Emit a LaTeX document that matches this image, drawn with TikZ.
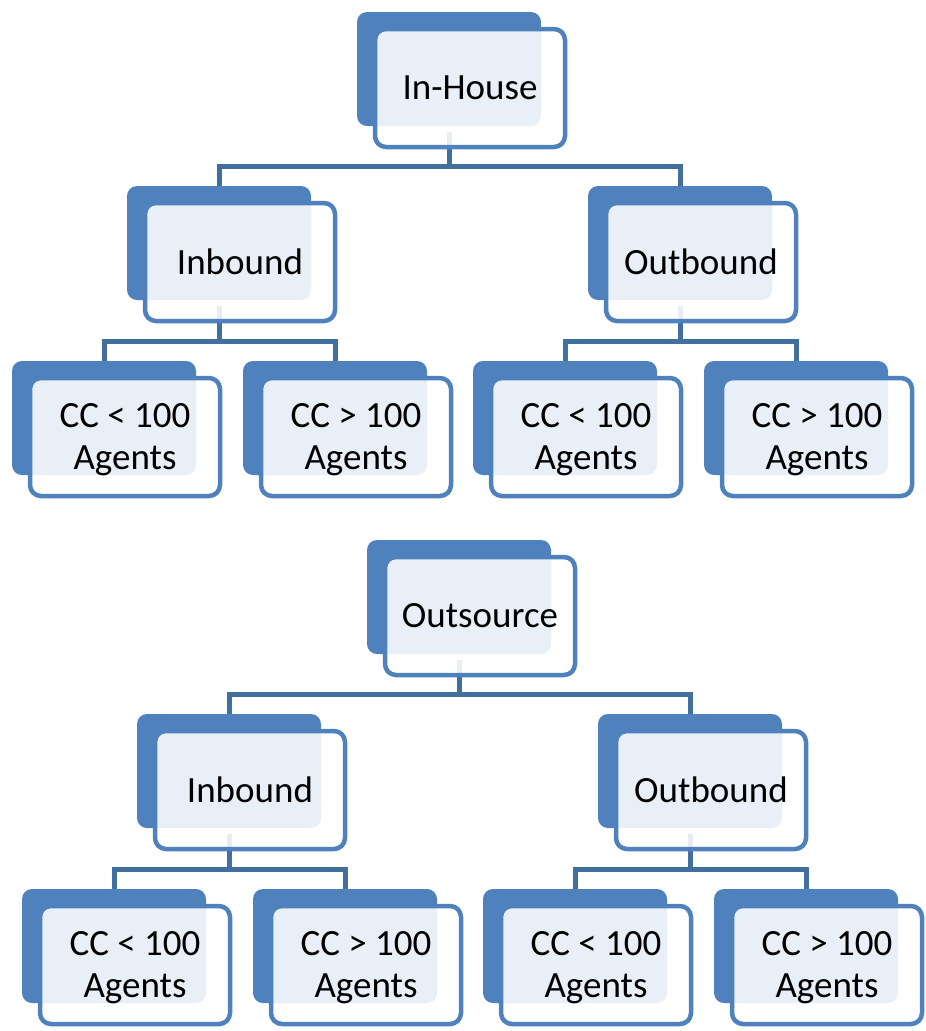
\documentclass[tikz,border=0pt]{standalone}
\usepackage{fontspec}
\setmainfont{Carlito}
\definecolor{dkblue}{HTML}{4F81BD}
\definecolor{connblue}{HTML}{41709F}
\newcommand{\lowr}[1]{\raisebox{-3pt}[\height][\depth]{#1}}
\tikzset{
  backbox/.style={draw=none, fill=dkblue, rounded corners=10pt, minimum width=184pt, minimum height=114pt, inner sep=0pt},
  frontbox/.style={draw=dkblue, line width=4.5pt, fill=white, fill opacity=0.88, text opacity=1, rounded corners=11pt, minimum width=190pt, minimum height=118pt, inner sep=0pt, align=center, font=\fontsize{37}{42}\selectfont},
  conn/.style={draw=connblue, line width=5pt}
}
\begin{document}
\begin{tikzpicture}[x=1pt,y=-1pt]
\useasboundingbox (0,0) rectangle (926,1031);
% ---------- back boxes ----------
\foreach \n/\x/\y in {ih/449/69, ib/219/243, ob/680/243, a1/104/418, a2/335/418, a3/565/418, a4/796/418,
                      os/459/597, jb/229/771, pb/690/771, b1/114/946, b2/345/946, b3/575/946, b4/806/946}
  \node[backbox] (\n) at (\x,\y) {};
% ---------- connectors ----------
\coordinate (j1) at (449,166);
\coordinate (j2) at (219,341);
\coordinate (j3) at (680,341);
\coordinate (k1) at (459,694);
\coordinate (k2) at (229,869);
\coordinate (k3) at (690,869);
\draw[conn] ([yshift=-6pt]ih.south) -- (j1) -| (ib.north);
\draw[conn] (j1) -| (ob.north);
\draw[conn] ([yshift=-6pt]ib.south) -- (j2) -| (a1.north);
\draw[conn] (j2) -| (a2.north);
\draw[conn] ([yshift=-6pt]ob.south) -- (j3) -| (a3.north);
\draw[conn] (j3) -| (a4.north);
\draw[conn] ([yshift=-6pt]os.south) -- (k1) -| (jb.north);
\draw[conn] (k1) -| (pb.north);
\draw[conn] ([yshift=-6pt]jb.south) -- (k2) -| (b1.north);
\draw[conn] (k2) -| (b2.north);
\draw[conn] ([yshift=-6pt]pb.south) -- (k3) -| (b3.north);
\draw[conn] (k3) -| (b4.north);
% ---------- front boxes ----------
\node[frontbox] (ihf) at ([xshift=21pt,yshift=-19pt]ih.center) {In-House};
\node[frontbox] (ibf) at ([xshift=21pt,yshift=-19pt]ib.center) {Inbound};
\node[frontbox] (obf) at ([xshift=21pt,yshift=-19pt]ob.center) {Outbound};
\node[frontbox] (a1f) at ([xshift=21pt,yshift=-19pt]a1.center) {\lowr{CC < 100}\\\lowr{Agents}};
\node[frontbox] (a2f) at ([xshift=21pt,yshift=-19pt]a2.center) {\lowr{CC > 100}\\\lowr{Agents}};
\node[frontbox] (a3f) at ([xshift=21pt,yshift=-19pt]a3.center) {\lowr{CC < 100}\\\lowr{Agents}};
\node[frontbox] (a4f) at ([xshift=21pt,yshift=-19pt]a4.center) {\lowr{CC > 100}\\\lowr{Agents}};
\node[frontbox] (osf) at ([xshift=21pt,yshift=-19pt]os.center) {Outsource};
\node[frontbox] (jbf) at ([xshift=21pt,yshift=-19pt]jb.center) {Inbound};
\node[frontbox] (pbf) at ([xshift=21pt,yshift=-19pt]pb.center) {Outbound};
\node[frontbox] (b1f) at ([xshift=21pt,yshift=-19pt]b1.center) {\lowr{CC < 100}\\\lowr{Agents}};
\node[frontbox] (b2f) at ([xshift=21pt,yshift=-19pt]b2.center) {\lowr{CC > 100}\\\lowr{Agents}};
\node[frontbox] (b3f) at ([xshift=21pt,yshift=-19pt]b3.center) {\lowr{CC < 100}\\\lowr{Agents}};
\node[frontbox] (b4f) at ([xshift=21pt,yshift=-19pt]b4.center) {\lowr{CC > 100}\\\lowr{Agents}};
\end{tikzpicture}
\end{document}
